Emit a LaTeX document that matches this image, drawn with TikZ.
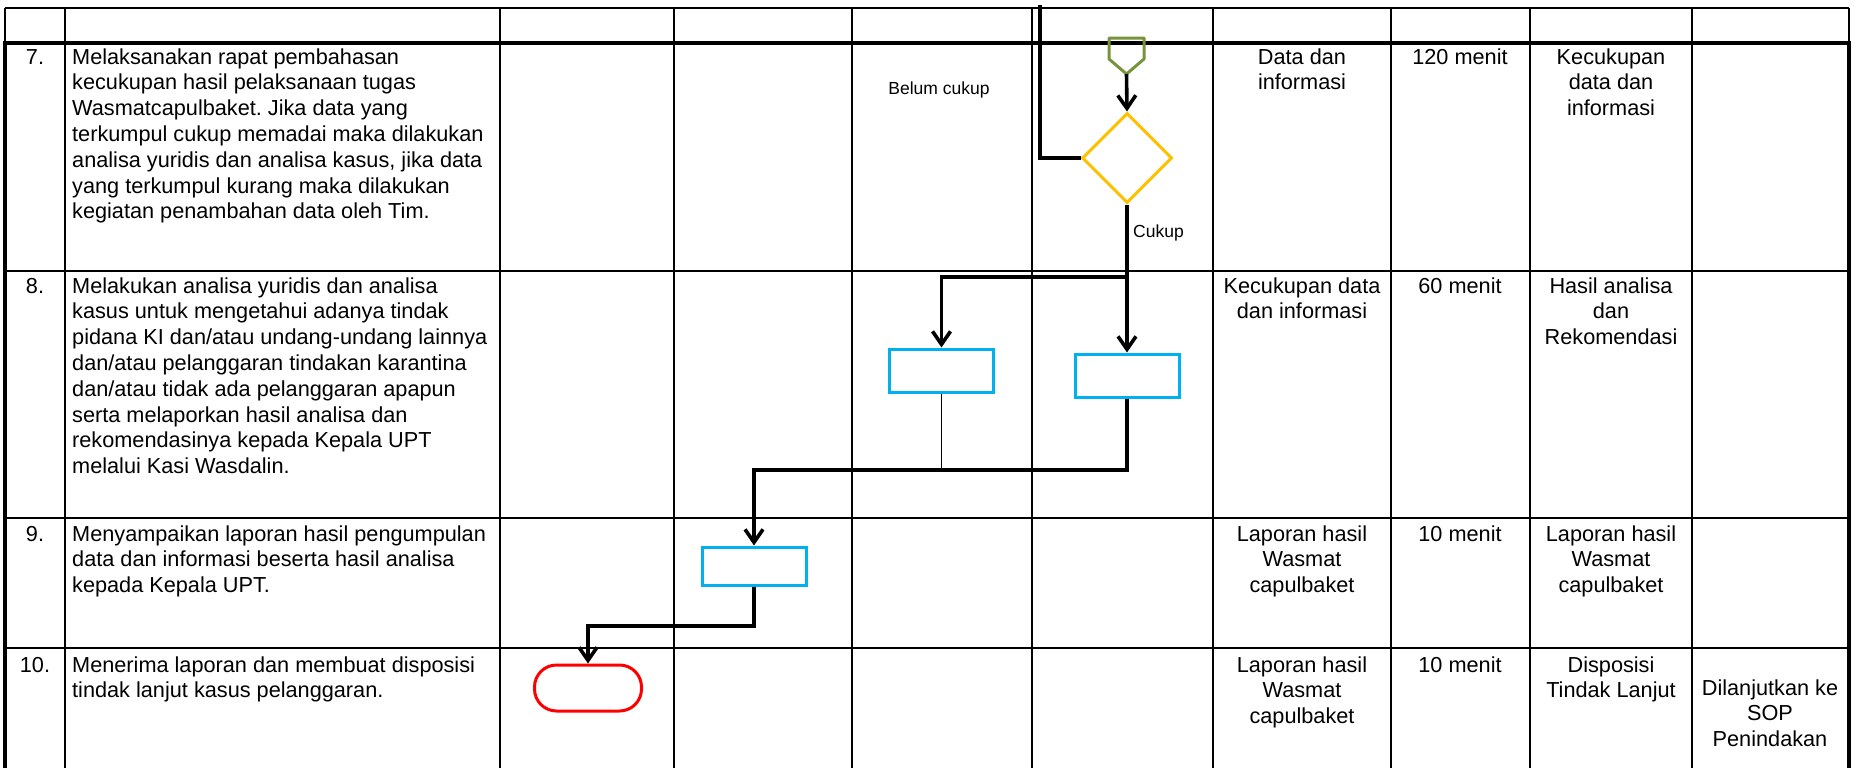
\documentclass[tikz,border=0pt]{standalone}
\usepackage{fontspec}
\setmainfont{Liberation Sans}
\usetikzlibrary{shapes.geometric,arrows.meta,calc}
\frenchspacing

\definecolor{procblue}{HTML}{00B0F0}
\definecolor{decgold}{HTML}{FFC000}
\definecolor{connolive}{HTML}{77933C}
\definecolor{termred}{HTML}{FF0000}

% stacked lines whose baseline is the first line's baseline
\newcommand{\leftlines}[1]{\begin{tabular}[t]{@{}l@{}}#1\end{tabular}}
\newcommand{\midlines}[1]{\begin{tabular}[t]{@{}c@{}}#1\end{tabular}}

\tikzset{
  gridline/.style={line width=2pt},
  rowline/.style={line width=2.7pt},
  frameline/.style={line width=4.5pt},
  flow/.style={line width=3.6pt, line join=miter},
  flowarrow/.style={flow, -{Straight Barb[length=13pt,width=18pt]}},
  thinflow/.style={line width=1.3pt},
  process/.style={draw=procblue, line width=3pt, minimum width=104pt, minimum height=43pt, inner sep=0pt},
  decision/.style={diamond, draw=decgold, line width=3pt, aspect=1, minimum size=90pt, inner sep=0pt},
  terminal/.style={draw=termred, line width=3pt, rounded corners=22pt, minimum width=107pt, minimum height=46pt, inner sep=0pt},
  bodytext/.style={font=\fontsize{21.7}{25.8}\selectfont, inner sep=0pt, anchor=base west},
  celltext/.style={font=\fontsize{21.7}{25.8}\selectfont, inner sep=0pt, anchor=base},
  numtext/.style={font=\fontsize{21.7}{25.8}\selectfont, inner sep=0pt, anchor=base},
  branchlabel/.style={font=\fontsize{17.5}{21}\selectfont, inner sep=0pt},
}

\begin{document}
\begin{tikzpicture}[x=1pt,y=-1pt]
\useasboundingbox (0,0) rectangle (1855,771);

% --- table grid ---
\foreach \cx in {65,500,674,852,1032,1213,1391,1530,1692} {
  \draw[gridline] (\cx,8) -- (\cx,768);
}
\draw[gridline] (5,8) -- (1849,8);
\draw[gridline] (5,8) -- (5,43);
\draw[gridline] (1849,8) -- (1849,43);
\foreach \ry in {271,518,648} {
  \draw[rowline] (5,\ry) -- (1849,\ry);
}
\draw[frameline] (5,768) -- (5,43) -- (1849,43) -- (1849,768);

% --- step numbers and descriptions ---
\node[numtext] (n7) at (35,64) {7.};
\node[bodytext] (d7) at (72,64) {\leftlines{Melaksanakan rapat pembahasan\\
kecukupan hasil pelaksanaan tugas\\
Wasmatcapulbaket. Jika data yang\\
terkumpul cukup memadai maka dilakukan\\
analisa yuridis dan analisa kasus, jika data\\
yang terkumpul kurang maka dilakukan\\
kegiatan penambahan data oleh Tim.}};

\node[numtext] (n8) at (35,293) {8.};
\node[bodytext] (d8) at (72,293) {\leftlines{Melakukan analisa yuridis dan analisa\\
kasus untuk mengetahui adanya tindak\\
pidana KI dan/atau undang-undang lainnya\\
dan/atau pelanggaran tindakan karantina\\
dan/atau tidak ada pelanggaran apapun\\
serta melaporkan hasil analisa dan\\
rekomendasinya kepada Kepala UPT\\
melalui Kasi Wasdalin.}};

\node[numtext] (n9) at (35,541) {9.};
\node[bodytext] (d9) at (72,541) {\leftlines{Menyampaikan laporan hasil pengumpulan\\
data dan informasi beserta hasil analisa\\
kepada Kepala UPT.}};

\node[numtext] (n10) at (35,672) {10.};
\node[bodytext] (d10) at (72,672) {\leftlines{Menerima laporan dan membuat disposisi\\
tindak lanjut kasus pelanggaran.}};

% --- input / time / output / notes columns ---
\node[celltext] (in7) at (1302,64) {\midlines{Data dan\\informasi}};
\node[celltext] (tm7) at (1460,64) {120 menit};
\node[celltext] (out7) at (1611,64) {\midlines{Kecukupan\\data dan\\informasi}};

\node[celltext] (in8) at (1302,293) {\midlines{Kecukupan data\\dan informasi}};
\node[celltext] (tm8) at (1460,293) {60 menit};
\node[celltext] (out8) at (1611,293) {\midlines{Hasil analisa\\dan\\Rekomendasi}};

\node[celltext] (in9) at (1302,541) {\midlines{Laporan hasil\\Wasmat\\capulbaket}};
\node[celltext] (tm9) at (1460,541) {10 menit};
\node[celltext] (out9) at (1611,541) {\midlines{Laporan hasil\\Wasmat\\capulbaket}};

\node[celltext] (in10) at (1302,672) {\midlines{Laporan hasil\\Wasmat\\capulbaket}};
\node[celltext] (tm10) at (1460,672) {10 menit};
\node[celltext] (out10) at (1611,672) {\midlines{Disposisi\\Tindak Lanjut}};
\node[celltext] (note10) at (1770,695) {\midlines{Dilanjutkan ke\\SOP\\Penindakan}};

% --- flowchart symbols ---
\draw[connolive, line width=3pt, line join=round]
  (1109,38) -- (1144,38) -- (1144,59) -- (1126.5,74) -- (1109,59) -- cycle;
\coordinate (opc) at (1126.5,74);

\node[decision] (dec) at (1127,158) {};
\node[process] (b1) at (941.5,370.5) {};
\node[process] (b2) at (1127,375.5) {};
\node[process, minimum height=38pt] (b3) at (754,566) {};
\node[terminal] (end) at (588,688) {};

\coordinate (ret) at (1040,5);
\coordinate (split) at (1127,277);
\coordinate (merge) at (754,470);
\coordinate (drop) at (588,626);

% --- connectors ---
\draw[flowarrow] (opc) -- (dec.north);
\draw[flow] (dec.west) -| (ret);
\draw[flowarrow] (dec.south) -- (b2.north);
\draw[flowarrow] (split) -| (b1.north);
\draw[thinflow] (b1.south) -- (b1.south |- merge);
\draw[flowarrow] (b2.south) |- (merge) -- (b3.north);
\draw[flowarrow] (b3.south) |- (drop) -- (end.north);

% --- branch labels ---
\node[branchlabel] (lblno) at (939,90) {Belum cukup};
\node[branchlabel, anchor=west] (lblyes) at (1133,233) {Cukup};

\end{tikzpicture}
\end{document}
